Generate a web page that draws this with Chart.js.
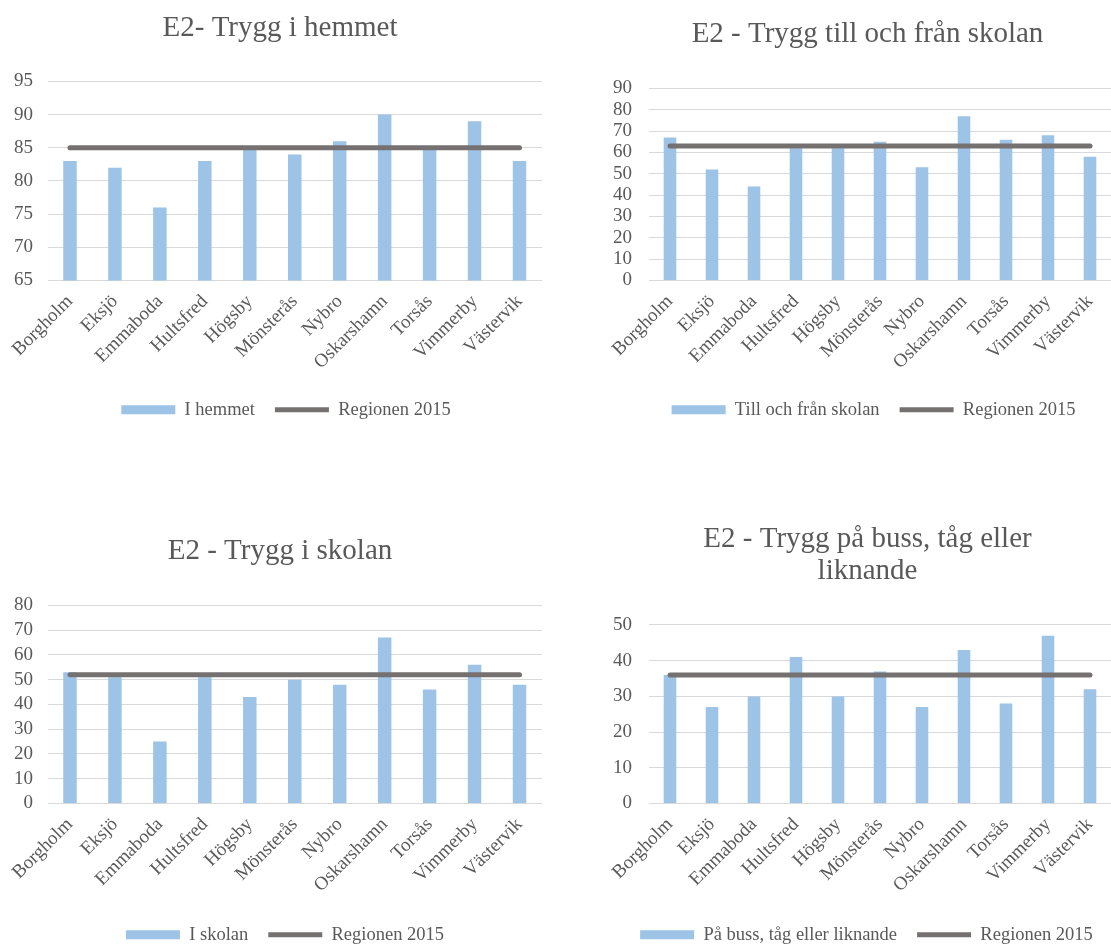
<!DOCTYPE html>
<html>
<head>
<meta charset="utf-8">
<script src="https://cdn.jsdelivr.net/npm/chart.js@4.4.0/dist/chart.umd.min.js"></script>
<style>
  html, body { margin: 0; padding: 0; background: #fff; overflow: hidden; }
  .box { position: absolute; }
</style>
</head>
<body>
<div class="box" style="left:0px;top:0px"><canvas id="c1" width="542" height="429"></canvas></div>
<div class="box" style="left:578px;top:0px"><canvas id="c2" width="533" height="429"></canvas></div>
<div class="box" style="left:0px;top:480px"><canvas id="c3" width="542" height="474"></canvas></div>
<div class="box" style="left:578px;top:480px"><canvas id="c4" width="533" height="474"></canvas></div>
<script>
// kommuner
const kommuner = ['Borgholm', 'Eksjö', 'Emmaboda', 'Hultsfred', 'Högsby', 'Mönsterås', 'Nybro', 'Oskarshamn', 'Torsås', 'Vimmerby', 'Västervik'];

// I hemmet
const hemmet = [83, 82, 76, 83, 85, 84, 86, 90, 85, 89, 83];
const hemmetRegion = [85, 85, 85, 85, 85, 85, 85, 85, 85, 85, 85];

// Till och från skolan
const tillFran = [67, 52, 44, 62, 62, 65, 53, 77, 66, 68, 58];
const tillFranRegion = [63, 63, 63, 63, 63, 63, 63, 63, 63, 63, 63];

// I skolan
const skolan = [53, 51, 25, 51, 43, 50, 48, 67, 46, 56, 48];
const skolanRegion = [52, 52, 52, 52, 52, 52, 52, 52, 52, 52, 52];

// På buss, tåg eller liknande
const buss = [36, 27, 30, 41, 30, 37, 27, 43, 28, 47, 32];
const bussRegion = [36, 36, 36, 36, 36, 36, 36, 36, 36, 36, 36];

const FONT = "'Liberation Serif', 'Times New Roman', serif";
const TEXT = '#595959';

function makeChart(id, title, barLabel, bars, region, yMin, yMax, yStep, s) {
  const ctx = document.getElementById(id).getContext('2d');

  // flytta titel och förklaring lite i sidled
  const nudge = {
    id: 'nudge',
    afterLayout(chart) {
      if (chart.legend) { chart.legend.left += s.legendDx; chart.legend.right += s.legendDx; }
      if (chart.titleBlock) { chart.titleBlock.left += s.titleDx; chart.titleBlock.right += s.titleDx; }
    }
  };

  return new Chart(ctx, {
    type: 'bar',
    data: {
      labels: kommuner,
      datasets: [
        {
          type: 'bar',
          label: barLabel,
          data: bars,
          backgroundColor: '#9DC3E6',
          borderWidth: 0,
          barPercentage: 0.3,
          categoryPercentage: 1,
          pointStyle: 'rect',
          order: 2
        },
        {
          type: 'line',
          label: 'Regionen 2015',
          data: region,
          borderColor: '#767171',
          backgroundColor: '#767171',
          borderWidth: 5,
          borderCapStyle: 'round',
          pointRadius: 0,
          pointStyle: 'line',
          tension: 0,
          order: 1
        }
      ]
    },
    options: {
      responsive: false,
      animation: false,
      layout: { padding: { left: s.padLeft, right: 0, top: 0, bottom: 0 } },
      plugins: {
        tooltip: { enabled: false },
        title: {
          display: true,
          text: title,
          color: TEXT,
          font: { family: FONT, size: 29, weight: 'normal', lineHeight: s.titleLH },
          padding: { top: s.titleTop, bottom: s.titleBottom }
        },
        legend: {
          position: 'bottom',
          labels: {
            color: TEXT,
            font: { family: FONT, size: 18.5 },
            usePointStyle: true,
            pointStyleWidth: 54,
            boxHeight: 9,
            padding: 20,
            sort: (a, b) => a.datasetIndex - b.datasetIndex
          }
        }
      },
      scales: {
        x: {
          grid: { display: false },
          border: { display: false },
          ticks: {
            color: TEXT,
            font: { family: FONT, size: 19 },
            minRotation: 45,
            maxRotation: 45,
            autoSkip: false,
            padding: 2
          },
          afterFit: (scale) => { scale.height = s.xHeight; }
        },
        y: {
          min: yMin,
          max: yMax,
          grid: { color: '#D9D9D9', lineWidth: 1, drawTicks: false },
          border: { display: false },
          ticks: {
            stepSize: yStep,
            autoSkip: false,
            color: TEXT,
            font: { family: FONT, size: 19 },
            padding: s.yPad
          },
          afterFit: (scale) => { scale.width = s.yWidth; }
        }
      }
    },
    plugins: [nudge]
  });
}

makeChart('c1', 'E2- Trygg i hemmet', 'I hemmet', hemmet, hemmetRegion, 65, 95, 5,
  { padLeft: 12, yWidth: 35.5, yPad: 14.5, titleLH: 1.2, titleTop: 11.4, titleBottom: 35.2, xHeight: 100,
    legendDx: 9, titleDx: 3 });
makeChart('c2', 'E2 - Trygg till och från skolan', 'Till och från skolan', tillFran, tillFranRegion, 0, 90, 10,
  { padLeft: 34, yWidth: 37, yPad: 17, titleLH: 1.2, titleTop: 17.4, titleBottom: 36.2, xHeight: 100,
    legendDx: 12, titleDx: 6 });
makeChart('c3', 'E2 - Trygg i skolan', 'I skolan', skolan, skolanRegion, 0, 80, 10,
  { padLeft: 12, yWidth: 35.5, yPad: 14.5, titleLH: 1.2, titleTop: 54.4, titleBottom: 36.2, xHeight: 102,
    legendDx: 8, titleDx: 3 });
makeChart('c4', ['E2 - Trygg på buss, tåg eller', 'liknande'], 'På buss, tåg eller liknande', buss, bussRegion, 0, 50, 10,
  { padLeft: 34, yWidth: 37, yPad: 17, titleLH: 1.103, titleTop: 43.7, titleBottom: 37.3, xHeight: 102,
    legendDx: 5, titleDx: 6 });
</script>
</body>
</html>
